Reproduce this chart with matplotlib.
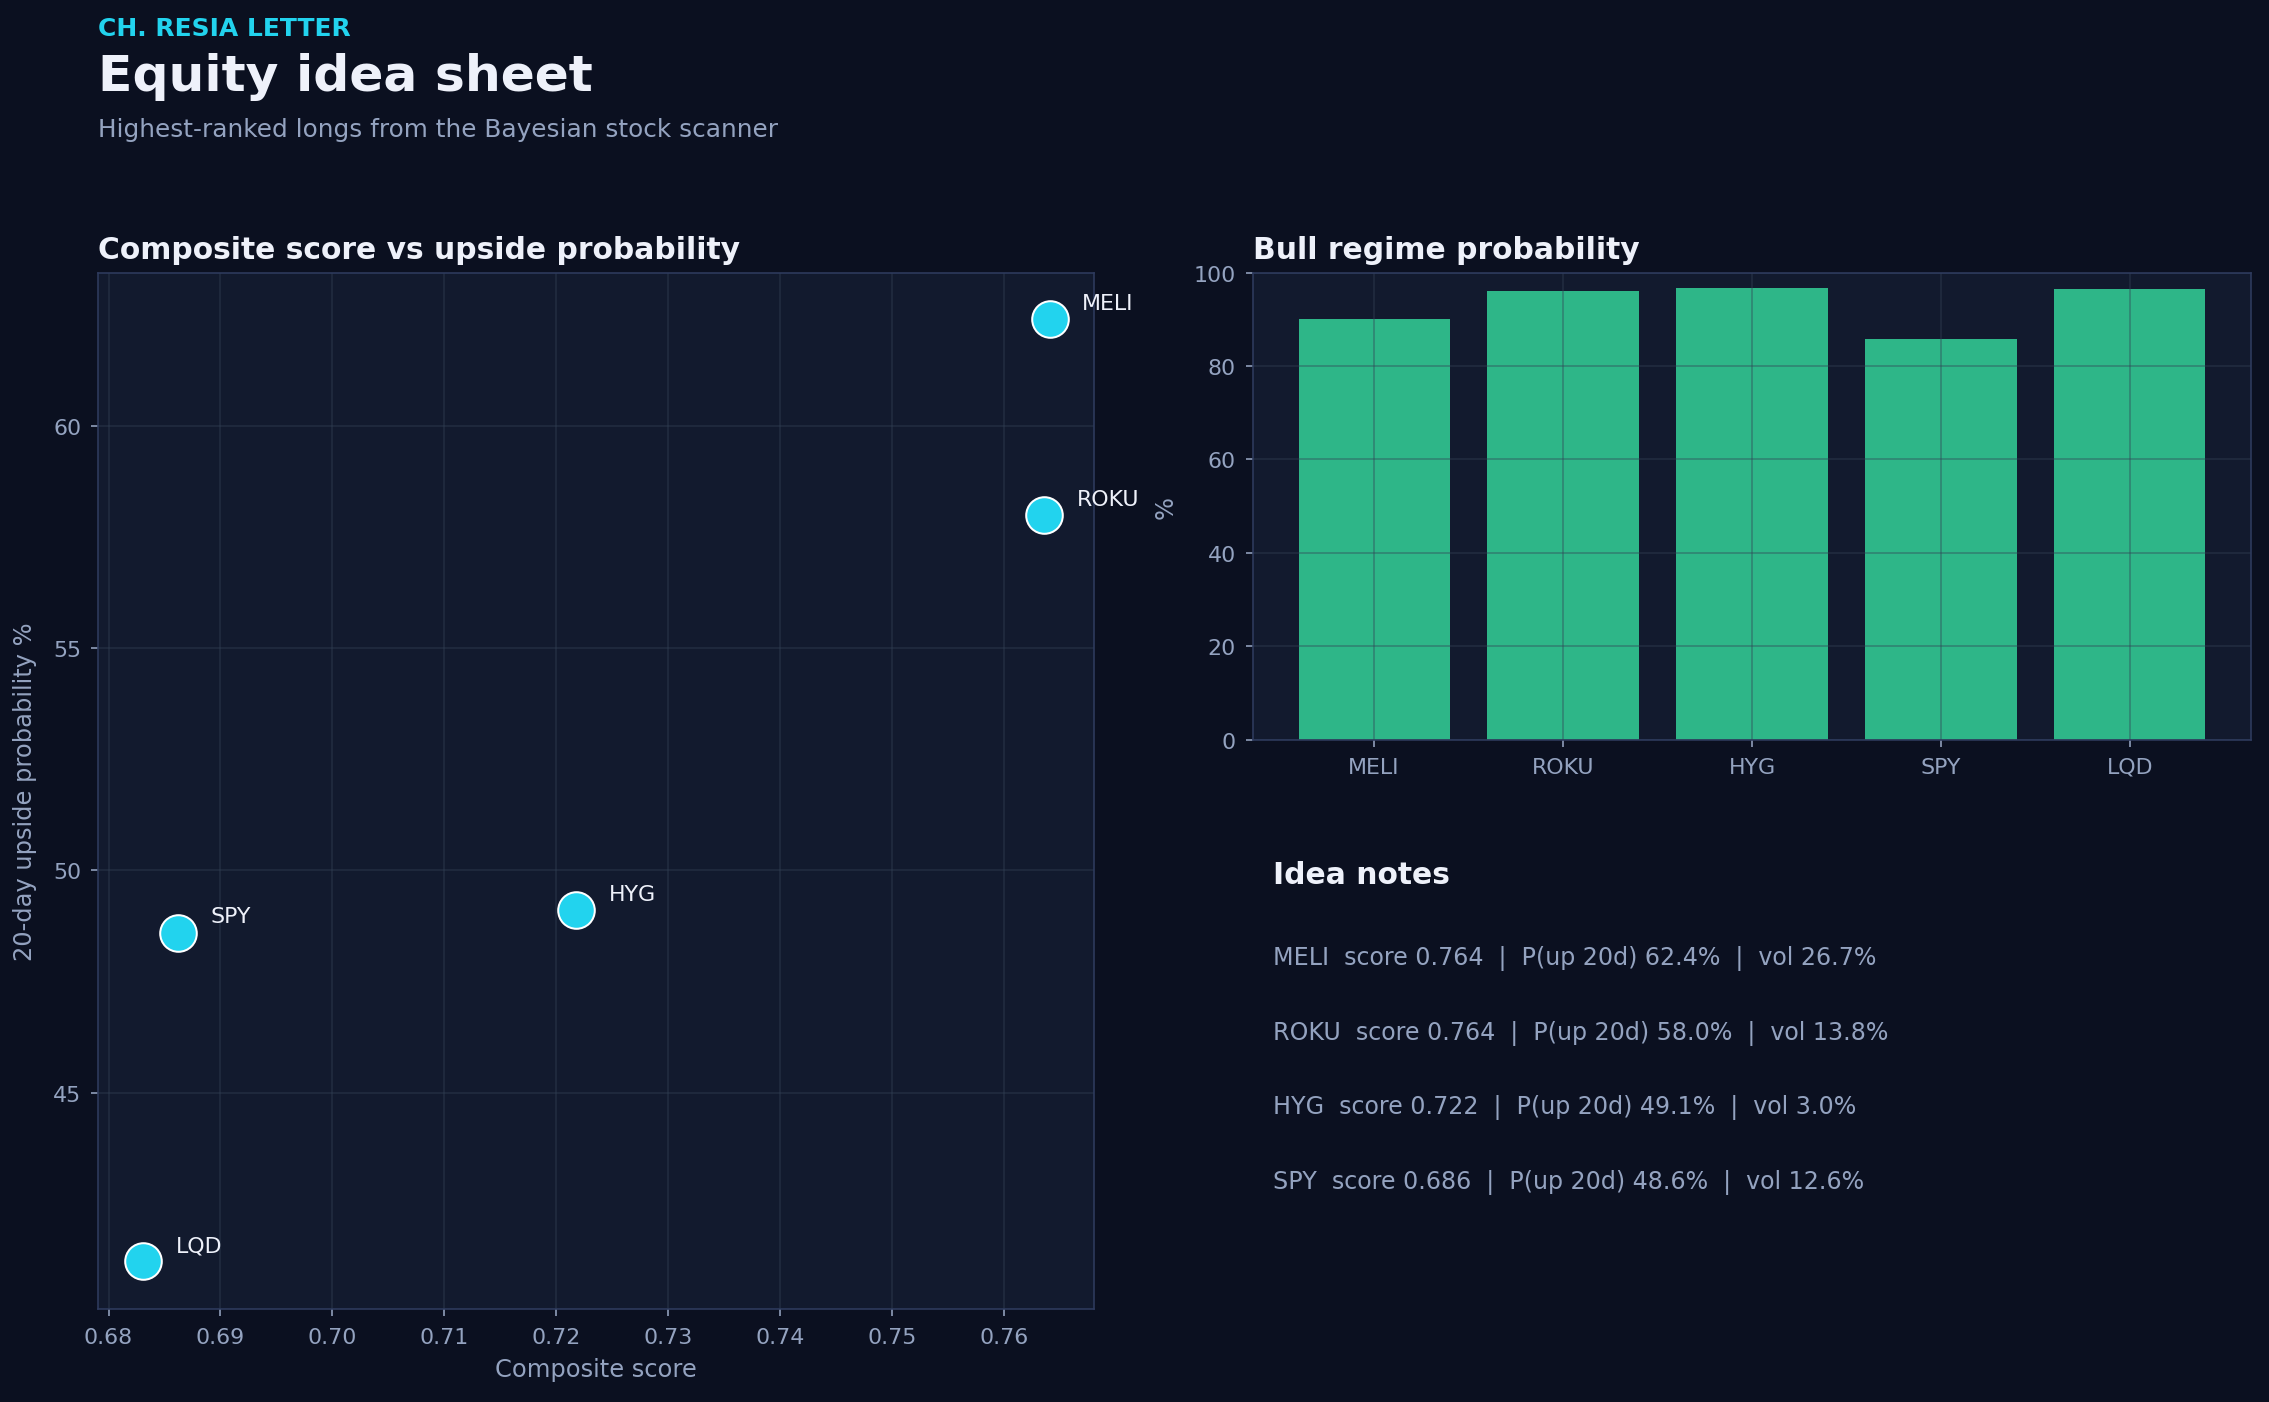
import matplotlib
matplotlib.use("Agg")
import matplotlib.pyplot as plt

tickers = ["MELI", "ROKU", "HYG", "SPY", "LQD"]
composite_score = [0.7641, 0.7636, 0.7218, 0.6862, 0.6831]
upside_prob = [62.4, 58.0, 49.1, 48.6, 41.2]
bull_prob = [90.0, 96.0, 96.6, 85.7, 96.4]
vols = [26.7, 13.8, 3.0, 12.6, 9.0]

bg = "#0b1020"
panel = "#121a2e"
spine = "#2e3b5e"
grid = "#334155"
muted = "#94a3c0"
white = "#eef1fa"
cyan = "#22d3ee"
green = "#34d399"

plt.rcParams["font.family"] = "DejaVu Sans"

fig = plt.figure(figsize=(2269 / 145, 1403 / 145), dpi=145, facecolor=bg)

fig.text(0.0434, 0.971, "CH. RESIA LETTER", color=cyan, fontsize=12.4,
         fontweight="bold", va="bottom")
fig.text(0.0434, 0.928, "Equity idea sheet", color=white, fontsize=25,
         fontweight="bold", va="bottom")
fig.text(0.0434, 0.899, "Highest-ranked longs from the Bayesian stock scanner",
         color=muted, fontsize=12.3, va="bottom")


def style_axes(ax):
    ax.set_facecolor(panel)
    for s in ax.spines.values():
        s.set_color(spine)
    ax.tick_params(colors=muted, labelsize=11, pad=5)
    ax.grid(True, color=grid, linewidth=0.9, alpha=0.4)


# scatter
ax1 = fig.add_axes([0.0434, 0.066, 0.4386, 0.739])
style_axes(ax1)
ax1.scatter(composite_score, upside_prob, s=330, color=cyan,
            edgecolors="white", linewidths=1.0, zorder=3)
for t, x, y in zip(tickers, composite_score, upside_prob):
    ax1.annotate(t, (x, y), xytext=(16, 5), textcoords="offset points",
                 color=white, fontsize=11)
ax1.set_xlim(0.6791, 0.768)
ax1.set_ylim(40.12, 63.45)
ax1.set_yticks([45, 50, 55, 60])
ax1.set_xlabel("Composite score", color=muted, fontsize=12, labelpad=5)
ax1.set_ylabel("20-day upside probability %", color=muted, fontsize=12,
               labelpad=8)
ax1.set_title("Composite score vs upside probability", loc="left",
              color=white, fontsize=14.8, fontweight="bold", pad=7)

# bars
ax2 = fig.add_axes([0.5523, 0.472, 0.4397, 0.333])
style_axes(ax2)
ax2.bar(tickers, bull_prob, color=green, alpha=0.85, width=0.8)
ax2.set_ylim(0, 100)
ax2.set_ylabel("%", color=muted, fontsize=12, labelpad=8)
ax2.set_title("Bull regime probability", loc="left",
              color=white, fontsize=14.8, fontweight="bold", pad=7)

# notes
fig.text(0.5612, 0.366, "Idea notes", color=white, fontsize=14.8,
         fontweight="bold", va="bottom")
for i in range(4):
    line = (f"{tickers[i]}  score {composite_score[i]:.3f}  |  "
            f"P(up 20d) {upside_prob[i]:.1f}%  |  vol {vols[i]:.1f}%")
    fig.text(0.5612, 0.308 - i * 0.0532, line, color=muted, fontsize=11.8,
             va="bottom")

fig.savefig("out.png", dpi=145, facecolor=bg)
